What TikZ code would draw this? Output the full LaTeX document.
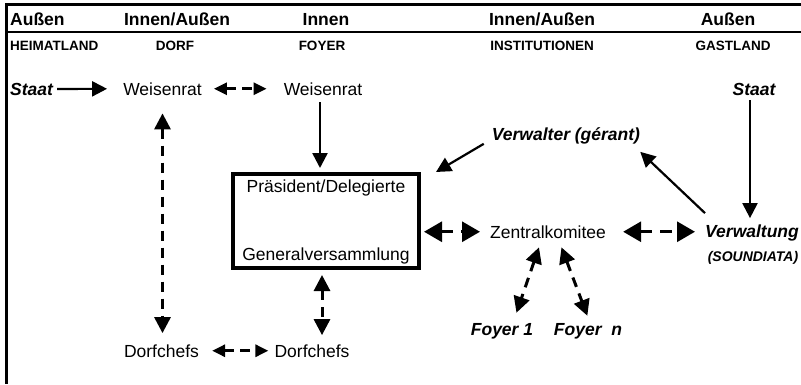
\documentclass[tikz,border=0pt]{standalone}
\usepackage{fontspec}
\setmainfont{Liberation Sans}
\usetikzlibrary{arrows.meta}
\begin{document}
\begin{tikzpicture}[x=1pt,y=-1pt,
  lbl/.style={inner sep=0pt, anchor=base, font=\fontsize{17.5}{20}\selectfont},
  bi/.style={lbl, font=\fontsize{17.5}{20}\selectfont\bfseries\itshape},
  hd/.style={inner sep=0pt, anchor=base, font=\fontsize{17.5}{20}\selectfont\bfseries},
  sub/.style={inner sep=0pt, anchor=base, font=\fontsize{13.5}{15}\selectfont\bfseries},
  frame/.style={line width=3pt},
  solidarr/.style={line width=2.2pt, -{Triangle[length=15pt,width=15pt]}},
  dasharr/.style={line width=3pt, dash pattern=on 10pt off 6pt,
     {Triangle[length=13pt,width=12pt]}-{Triangle[length=13pt,width=12pt]}},
  dasharrb/.style={line width=3pt, dash pattern=on 10pt off 7pt,
     {Triangle[length=16pt,width=16pt]}-{Triangle[length=16pt,width=16pt]}},
  dasharrc/.style={line width=3pt, dash pattern=on 12pt off 8pt,
     {Triangle[length=18pt,width=20pt]}-{Triangle[length=18pt,width=20pt]}},
]
\useasboundingbox (0,0) rectangle (801,384);
% frame
\draw[frame] (6.5,3) -- (6.5,384);
\draw[frame] (5,4.5) -- (801,4.5);
\draw[line width=2.5pt] (5,32) -- (801,32);
% headers
\node[hd, anchor=base west] (h1) at (10,25) {Außen};
\node[hd] (h2) at (177,25) {Innen/Außen};
\node[hd] (h3) at (326,25) {Innen};
\node[hd] (h4) at (542,25) {Innen/Außen};
\node[hd] (h5) at (728,25) {Außen};
\node[sub, anchor=base west] (s1) at (10,50) {HEIMATLAND};
\node[sub] (s2) at (175,50) {DORF};
\node[sub] (s3) at (322,50) {FOYER};
\node[sub] (s4) at (542,50) {INSTITUTIONEN};
\node[sub] (s5) at (733,50) {GASTLAND};
% body nodes
\node[bi, anchor=base west] (stL) at (10,95) {Staat};
\node[lbl] (w1) at (162.5,95) {Weisenrat};
\node[lbl] (w2) at (323,95) {Weisenrat};
\node[bi] (stR) at (754,95) {Staat};
\node[bi] (vr) at (566,140) {Verwalter (gérant)};
\node[draw, line width=4pt, minimum width=186pt, minimum height=94pt, inner sep=0pt] (box) at (326,221) {};
\node[lbl] (pd) at (326,192) {Präsident/Delegierte};
\node[lbl] (gv) at (326,260) {Generalversammlung};
\node[lbl, anchor=base west] (zk) at (490,238) {Zentralkomitee};
\node[bi, anchor=base west] (vw) at (705,237) {Verwaltung};
\node[inner sep=0pt, anchor=base, font=\fontsize{14}{16}\selectfont\bfseries\itshape] (sd) at (753,261) {(SOUNDIATA)};
\node[bi] (f1) at (502,335) {Foyer 1};
\node[bi] (f2) at (588,335) {Foyer~~n};
\node[lbl] (d1) at (161.5,357) {Dorfchefs};
\node[lbl] (d2) at (312,357) {Dorfchefs};
% connectors
\draw[solidarr, shorten <=4pt, shorten >=16pt] (stL.east) -- (w1.west);
\draw[dasharr, shorten <=12pt, shorten >=17pt] (w1.east) -- (w2.west);
\draw[solidarr, line width=2.5pt, shorten <=7pt, shorten >=4pt] ([xshift=-3pt]w2.south) -- ([xshift=-3pt]w2.south |- box.north);
\draw[dasharrb, shorten <=18pt, shorten >=11pt] (w1.south) -- (w1.south |- d1.north);
\draw[dasharrb, shorten <=5pt, shorten >=9pt] ([xshift=-4pt]box.south) -- ([xshift=-4pt]box.south |- d2.north);
\draw[dasharr, shorten <=13pt, shorten >=6pt] (d1.east) -- (d2.west);
\draw[dasharrc, shorten <=3pt, shorten >=10pt] (box.east |- zk.west) -- (zk.west);
\draw[dasharrc, shorten <=17pt, shorten >=10pt] (zk.east) -- (zk.east -| vw.west);
\draw[dasharrb, shorten <=9.5pt, shorten >=10.6pt] ([xshift=-6pt]zk.south) -- ([xshift=11pt]f1.north);
\draw[dasharrb, shorten <=9.6pt, shorten >=7.5pt] ([xshift=10pt]zk.south) -- ([xshift=2pt]f2.north);
\draw[solidarr] ([xshift=-8pt]vr.south west) -- ([xshift=15pt]box.north east);
\draw[solidarr] ([yshift=11pt]vw.north west) -- ([yshift=-8pt]vr.south east);
\draw[solidarr, shorten <=5pt, shorten >=6pt] ([xshift=-4pt]stR.south) -- ([xshift=-4pt]stR.south |- vw.north);
\end{tikzpicture}
\end{document}
